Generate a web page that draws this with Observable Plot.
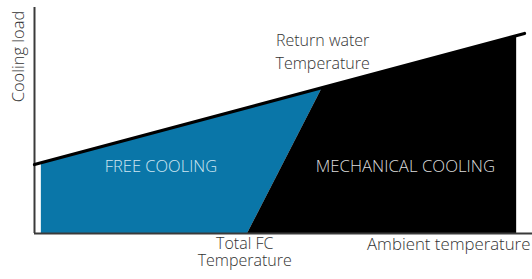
<!DOCTYPE html>
<html>
<head>
<meta charset="utf-8">
<script src="https://cdn.jsdelivr.net/npm/d3@7"></script>
<script src="https://cdn.jsdelivr.net/npm/@observablehq/plot@0.6"></script>
<style>
  html, body { margin: 0; padding: 0; background: #fff; }
  svg { display: block; overflow: visible; }
</style>
</head>
<body>
<div id="chart"></div>
<script>
// Return water temperature line (cooling load vs ambient temperature, arbitrary units 0-100)
const returnX = [0, 100];
const returnY = [30.5, 88.5];

// Free cooling region: x, lower bound, upper bound
const freeX = [1.4, 43.5, 58.8];
const freeLow = [0, 0, 64.6];
const freeHigh = [31.3, 55.7, 64.6];

// Mechanical cooling region
const mechX = [43.5, 58.8, 98.4];
const mechLow = [0, 0, 0];
const mechHigh = [0, 64.6, 87.6];

// Text labels (data coordinates)
const regionLabels = ["FREE COOLING", "MECHANICAL COOLING"];
const regionLabelX = [25.8, 75.7];
const regionLabelY = [27, 27];

const freeData = freeX.map((x, i) => ({x, y1: freeLow[i], y2: freeHigh[i]}));
const mechData = mechX.map((x, i) => ({x, y1: mechLow[i], y2: mechHigh[i]}));
const returnData = returnX.map((x, i) => ({x, y: returnY[i]}));

const font = "'Open Sans', 'Noto Sans', sans-serif";

const chart = Plot.plot({
  width: 532,
  height: 279,
  marginLeft: 34,
  marginRight: 8,
  marginTop: 7,
  marginBottom: 46,
  x: {domain: [0, 100], axis: null},
  y: {domain: [0, 100], axis: null},
  style: {fontFamily: font, background: "#fff"},
  marks: [
    Plot.areaY(freeData, {x: "x", y1: "y1", y2: "y2", fill: "#0a76a8"}),
    Plot.areaY(mechData, {x: "x", y1: "y1", y2: "y2", fill: "#000"}),
    Plot.ruleX([0], {y1: 0, y2: 100, stroke: "#3a3a3a", strokeWidth: 2}),
    Plot.ruleY([0], {x1: 0, x2: 101.7, stroke: "#3a3a3a", strokeWidth: 2}),
    Plot.line(returnData, {x: "x", y: "y", stroke: "#000", strokeWidth: 3.2}),
    Plot.text([regionLabels[0]], {x: regionLabelX[0], y: regionLabelY[0], text: d => d, fill: "#cfe6f2", fontSize: 16.5, lineAnchor: "bottom", fontWeight: 300}),
    Plot.text([regionLabels[1]], {x: regionLabelX[1], y: regionLabelY[1], text: d => d, fill: "#dcdcdc", fontSize: 16.8, lineAnchor: "bottom", fontWeight: 300}),
    Plot.text(["Return water\nTemperature"], {x: 58.8, y: 72.6, text: d => d, fill: "#333", fontSize: 16, lineHeight: 1.46, lineAnchor: "bottom", fontWeight: 300}),
    Plot.text(["Total FC\nTemperature"], {x: 42.9, y: -14.6, text: d => d, fill: "#333", fontSize: 16, lineHeight: 1.12, lineAnchor: "bottom", fontWeight: 300}),
    Plot.text(["Ambient temperature"], {x: 101.2, y: -7.5, text: d => d, fill: "#333", fontSize: 16.8, textAnchor: "end", lineAnchor: "bottom", fontWeight: 300}),
    Plot.text(["Cooling load"], {x: 0, y: 78.3, dx: -16, text: d => d, fill: "#333", fontSize: 16.5, rotate: -90, fontWeight: 300})
  ]
});
document.getElementById("chart").appendChild(chart);
</script>
</body>
</html>
